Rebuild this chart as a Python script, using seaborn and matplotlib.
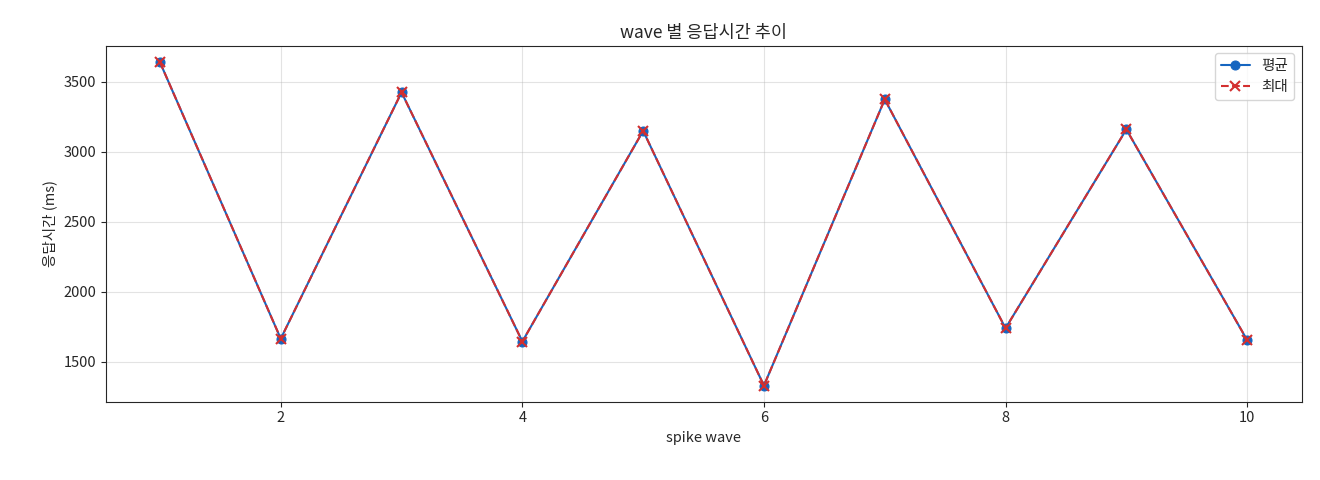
import seaborn as sns
import pandas as pd
from matplotlib import pyplot as plt

#data
waves=[1,2,3,4,5,6,7,8,9,10]
avg_ms=[3640,1665,3425,1645,3150,1330,3375,1740,3160,1655]
max_ms=[3640,1665,3425,1645,3150,1330,3375,1740,3160,1655]

sns.set_style('ticks')
plt.rcParams['font.family']=['Noto Sans CJK KR','DejaVu Sans']
plt.rcParams['font.size']=10.5

df=pd.DataFrame({'wave':waves,'avg':avg_ms,'max':max_ms})

fig,ax=plt.subplots(figsize=(13.2,4.8),dpi=100)
sns.lineplot(data=df,x='wave',y='avg',ax=ax,color='#1565c0',marker='o',markersize=6.5,
             markeredgecolor='#1565c0',label='평균',linewidth=1.5)
sns.lineplot(data=df,x='wave',y='max',ax=ax,color='#d32f2f',marker='x',markersize=6.5,
             markeredgecolor='#d32f2f',markeredgewidth=1.5,label='최대',linewidth=1.5)
ax.lines[1].set_linestyle('--')
ax.grid(True,alpha=0.35,color='#b0b0b0')
ax.set_title('wave 별 응답시간 추이')
ax.set_xlabel('spike wave')
ax.set_ylabel('응답시간 (ms)')
leg=ax.legend(loc='upper right')
leg.get_lines()[1].set_linestyle('--')
plt.subplots_adjust(left=0.08,right=0.986,top=0.904,bottom=0.163)
plt.savefig('out.png')
